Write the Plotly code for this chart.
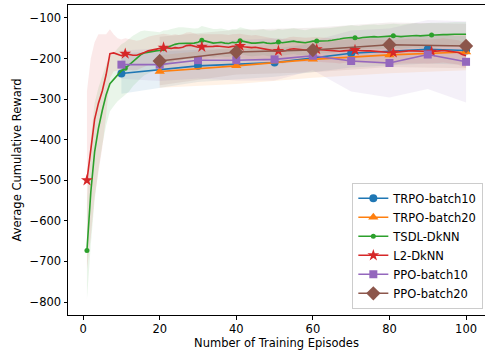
import plotly.graph_objects as go

# ---------------- data ----------------
episodes = list(range(1, 101))

tsdl_mean = [-673, -530, -430, -372, -328, -290, -262, -252, -240, -230,
             -224, -216, -206, -198, -191, -186, -184, -182, -181, -180,
             -176, -173, -169, -165, -163, -163, -162, -163, -162, -160,
             -155, -157, -160, -162, -161, -160, -162, -163, -160, -161,
             -156, -158, -160, -162, -162, -161, -160, -162, -163, -162,
             -159, -161, -160, -158, -157, -159, -160, -161, -159, -157,
             -157, -157, -156, -156, -155, -154, -152, -150, -149, -148,
             -149, -150, -148, -147, -146, -146, -147, -146, -145, -144,
             -144, -145, -146, -145, -144, -143, -143, -144, -143, -142,
             -142, -142, -141, -141, -141, -140, -140, -140, -140, -140]
tsdl_hw = [120, 130, 120, 100, 85, 75, 68, 65, 65, 65,
           65, 65, 62, 60, 58, 55, 52, 50, 48, 45,
           45, 43, 42, 40, 40, 40, 38, 38, 36, 35,
           35, 35, 35, 35, 34, 34, 34, 33, 33, 33,
           33, 33, 33, 32, 32, 32, 32, 32, 32, 32,
           32, 32, 32, 32, 32, 32, 31, 31, 31, 31,
           31, 31, 31, 31, 31, 31, 31, 30, 30, 30,
           30, 30, 30, 30, 30, 30, 30, 30, 30, 30,
           30, 30, 30, 30, 30, 30, 30, 30, 30, 30,
           30, 30, 30, 30, 30, 30, 30, 30, 30, 30]

l2_mean = [-500, -420, -350, -310, -280, -240, -188, -186, -190, -193,
           -188, -190, -192, -192, -189, -185, -181, -179, -177, -175,
           -173, -174, -175, -173, -174, -172, -168, -167, -169, -172,
           -171, -171, -170, -170, -169, -170, -171, -172, -170, -170,
           -169, -171, -172, -173, -172, -174, -176, -178, -180, -181,
           -181, -182, -180, -177, -176, -177, -178, -179, -178, -177,
           -177, -178, -179, -180, -181, -181, -182, -181, -180, -179,
           -179, -180, -181, -181, -181, -182, -183, -184, -184, -185,
           -185, -184, -182, -181, -181, -181, -181, -182, -182, -183,
           -183, -182, -181, -180, -181, -182, -183, -185, -190, -193]
l2_hw = [220, 220, 190, 170, 140, 100, 60, 45, 40, 40,
         38, 38, 37, 36, 35, 35, 35, 35, 34, 34,
         34, 33, 33, 33, 32, 32, 32, 32, 31, 31,
         31, 31, 30, 30, 30, 30, 30, 30, 30, 30,
         30, 30, 30, 30, 30, 30, 30, 30, 30, 30,
         30, 30, 30, 30, 30, 30, 30, 30, 30, 30,
         30, 30, 30, 30, 30, 30, 30, 30, 30, 30,
         30, 30, 30, 30, 30, 30, 30, 30, 30, 30,
         30, 30, 30, 30, 30, 30, 30, 30, 30, 30,
         30, 30, 30, 30, 30, 30, 30, 30, 30, 30]

trpo10_x = [10, 30, 50, 70, 90, 100]
trpo10_mean = [-237, -218, -210, -187, -177, -180]
trpo10_hw = [50, 40, 35, 35, 35, 35]

trpo20_x = [20, 40, 60, 80, 100]
trpo20_mean = [-232, -218, -202, -191, -184]
trpo20_hw = [40, 45, 45, 45, 45]

ppo10_x = [10, 20, 30, 40, 50, 60, 70, 80, 90, 100]
ppo10_mean = [-215, -215, -204, -204, -202, -193, -206, -211, -190, -208]
ppo10_hw = [35, 40, 45, 50, 52, 36, 75, 85, 85, 100]

ppo20_x = [20, 40, 60, 80, 100]
ppo20_mean = [-206, -184, -179, -166, -169]
ppo20_hw = [60, 55, 55, 55, 55]

tick_y = [-800, -700, -600, -500, -400, -300, -200, -100]
tick_x = [0, 20, 40, 60, 80, 100]

# ---------------- style ----------------
series = [
    ("TRPO-batch10", trpo10_x, trpo10_mean, trpo10_hw, (31, 119, 180), "circle", 8, 1),
    ("TRPO-batch20", trpo20_x, trpo20_mean, trpo20_hw, (255, 127, 14), "triangle-up", 9, 1),
    ("TSDL-DkNN", episodes, tsdl_mean, tsdl_hw, (44, 160, 44), "circle", 5, 10),
    ("L2-DkNN", episodes, l2_mean, l2_hw, (214, 39, 40), "star", 9, 10),
    ("PPO-batch10", ppo10_x, ppo10_mean, ppo10_hw, (148, 103, 189), "square", 8, 1),
    ("PPO-batch20", ppo20_x, ppo20_mean, ppo20_hw, (140, 86, 75), "diamond", 11, 1),
]

fig = go.Figure()

# bands first
for name, xs, m, hw, c, sym, ms, every in series:
    up = [a + b for a, b in zip(m, hw)]
    lo = [a - b for a, b in zip(m, hw)]
    fig.add_trace(go.Scatter(
        x=list(xs) + list(xs)[::-1], y=up + lo[::-1],
        fill="toself", fillcolor="rgba(%d,%d,%d,0.1)" % c,
        line=dict(width=0), mode="lines", hoverinfo="skip", showlegend=False))

for name, xs, m, hw, c, sym, ms, every in series:
    col = "rgb(%d,%d,%d)" % c
    # line
    fig.add_trace(go.Scatter(x=xs, y=m, mode="lines", showlegend=False,
                             line=dict(color=col, width=1.6), hoverinfo="skip"))
    # markers (every n-th point, like matplotlib markevery)
    fig.add_trace(go.Scatter(x=list(xs)[::every], y=list(m)[::every], mode="markers",
                             showlegend=False,
                             marker=dict(symbol=sym, size=ms, color=col, line=dict(width=0))))
    # legend proxy
    fig.add_trace(go.Scatter(x=[None], y=[None], name=name, mode="lines+markers",
                             line=dict(color=col, width=1.6),
                             marker=dict(symbol=sym, size=ms, color=col, line=dict(width=0))))

axis_common = dict(showline=True, linecolor="black", linewidth=1, mirror=True,
                   ticks="outside", ticklen=3.5, tickwidth=1, tickcolor="black",
                   showgrid=False, zeroline=False,
                   tickfont=dict(family="DejaVu Sans", size=11.5, color="black"))

fig.update_layout(
    width=485, height=356,
    margin=dict(l=68, r=0, t=5, b=41),
    plot_bgcolor="white", paper_bgcolor="white",
    font=dict(family="DejaVu Sans", size=11.5, color="black"),
    xaxis=dict(range=[-3.95, 104.95], tickvals=tick_x,
               title=dict(text="Number of Training Episodes", standoff=3,
                          font=dict(size=11.5)), **axis_common),
    yaxis=dict(range=[-832, -68], tickvals=tick_y,
               title=dict(text="Average Cumulative Reward", standoff=5,
                          font=dict(size=11.5)), **axis_common),
    legend=dict(x=0.996, y=0.02, xanchor="right", yanchor="bottom",
                bgcolor="rgba(255,255,255,0.8)", bordercolor="#cccccc", borderwidth=1,
                font=dict(size=11.5), itemwidth=30, tracegroupgap=0),
    showlegend=True,
)

fig.write_html("out.html", config={"displayModeBar": False},
               post_script="document.body.style.margin='0';document.body.style.overflow='hidden';")
